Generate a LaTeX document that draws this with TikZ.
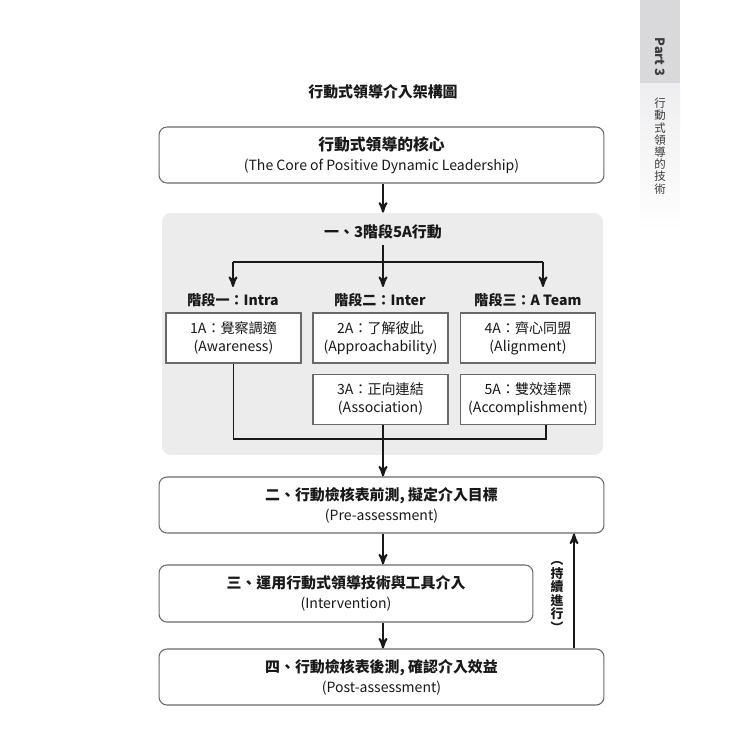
\documentclass[tikz,border=0pt]{standalone}
\usepackage{fontspec}
\setmainfont{Noto Sans CJK TC}
\usepackage{tikz}
\usetikzlibrary{arrows}
\usetikzlibrary{positioning}
\tikzset{>=stealth'}
\definecolor{boxline}{RGB}{105,105,105}
\definecolor{stagefill}{RGB}{236,236,236}
\definecolor{ink}{RGB}{25,25,25}
\definecolor{tabdark}{RGB}{217,217,219}
\definecolor{tablight}{RGB}{238,238,240}
\tikzset{
	stepframe/.style={draw=boxline, line width=0.6pt, rounded corners=4.5pt, minimum width=8.9cm, minimum height=1.12cm, align=center, text=ink, font=\fontsize{8}{11.3}\selectfont},
	abox/.style={draw=boxline, line width=0.6pt, fill=white, minimum width=2.7cm, minimum height=1cm, align=center, text=ink, font=\fontsize{8}{10.2}\selectfont},
	stagelabel/.style={text=ink, font=\fontsize{8}{10}\selectfont\bfseries},
	flowline/.style={line width=1.1pt, draw=ink},
}

\begin{document}
\begin{tikzpicture}[x=0.02cm,y=-0.02cm]
				\useasboundingbox (0,0) rectangle (750,750);
				% side tab
				\fill[tabdark] (640,0) rectangle (680,84);
				\shade[top color=tablight, bottom color=white] (640,84) rectangle (680,232);
				\node[rotate=-90, text=ink!85, font=\fontsize{7.3}{8}\selectfont\bfseries] (part) at (660,57) {Part 3};
				\node[align=center, text=ink!85, inner sep=0pt, font=\fontsize{6.5}{6.95}\selectfont] (tabtext) at (660,146) {行\\動\\式\\領\\導\\的\\技\\術};
	
				\node[text=ink, font=\fontsize{8.5}{10}\selectfont\bfseries] (title) at (383,92) {行動式領導介入架構圖};
				\node[stepframe] (core) at (381.5,155) {{\bfseries\fontsize{9}{11.3}\selectfont 行動式領導的核心}\\(The Core of Positive Dynamic Leadership)};
	
				% 3 stages
				\node[fill=stagefill, rounded corners=5pt, minimum width=8.82cm, minimum height=4.84cm] (stage) at (382.5,334) {};
				\node[text=ink, font=\fontsize{8.5}{10}\selectfont\bfseries] (phase) at (383,232) {一、3階段5A行動};
				\node[stagelabel] (intra) at (233,300) {階段一：Intra};
				\node[stagelabel] (inter) at (380,300) {階段二：Inter};
				\node[stagelabel] (ateam) at (528,300) {階段三：A Team};
				\node[abox] (aware) at (233.5,338) {1A：覺察調適\\(Awareness)};
				\node[abox] (approach) at (380.5,338) {2A：了解彼此\\(Approachability)};
				\node[abox] (alignm) at (528,338) {4A：齊心同盟\\(Alignment)};
				\node[abox, below=0.2cm of approach] (assoc) {3A：正向連結\\(Association)};
				\node[abox, below=0.2cm of alignm] (accomp) {5A：雙效達標\\(Accomplishment)};
	
				% steps
				\node[stepframe] (pre) at (381.5,505) {{\bfseries\fontsize{8.5}{11.3}\selectfont 二、行動檢核表前測, 擬定介入目標}\\(Pre-assessment)};
				\node[stepframe, minimum width=7.48cm, minimum height=1.14cm] (interv) at (346,593.5) {{\bfseries\fontsize{8.5}{11.3}\selectfont 三、運用行動式領導技術與工具介入}\\(Intervention)};
				\node[stepframe] (post) at (381.5,677) {{\bfseries\fontsize{8.5}{11.3}\selectfont 四、行動檢核表後測, 確認介入效益}\\(Post-assessment)};
				\node[align=center, text=ink, inner sep=0pt, font=\fontsize{7.3}{7.7}\selectfont\bfseries] (keep) at (557,597) {︵\\持\\續\\進\\行\\︶};
	
				\coordinate (split) at (383,262);
				\coordinate (join) at (383,439);
				\coordinate (loop) at (574,0);
				\draw[flowline,->] (core.south -| join) -- (join |- stage.north);
				\draw[flowline] (phase.south) -- (split);
				\draw[flowline] (split -| intra) -- ([xshift=0.3cm]split -| ateam);
				\draw[flowline,->] (split -| intra) -- (intra.north);
				\draw[flowline,->] (split) -- (split |- inter.north);
				\draw[flowline,->] ([xshift=0.3cm]split -| ateam) -- ([xshift=0.3cm]ateam.north);
				\draw[flowline] (aware.south) |- ([xshift=0.36cm]join -| accomp) -- ([xshift=0.36cm]accomp.south);
				\draw[flowline,->] (join |- assoc.south) -- (join |- pre.north);
				\draw[flowline,->] (join |- pre.south) -- (join |- interv.north);
				\draw[flowline,->] (join |- interv.south) -- (join |- post.north);
				\draw[flowline,->] (loop |- post.north) -- (loop |- pre.south);
			 \end{tikzpicture}
\end{document}
